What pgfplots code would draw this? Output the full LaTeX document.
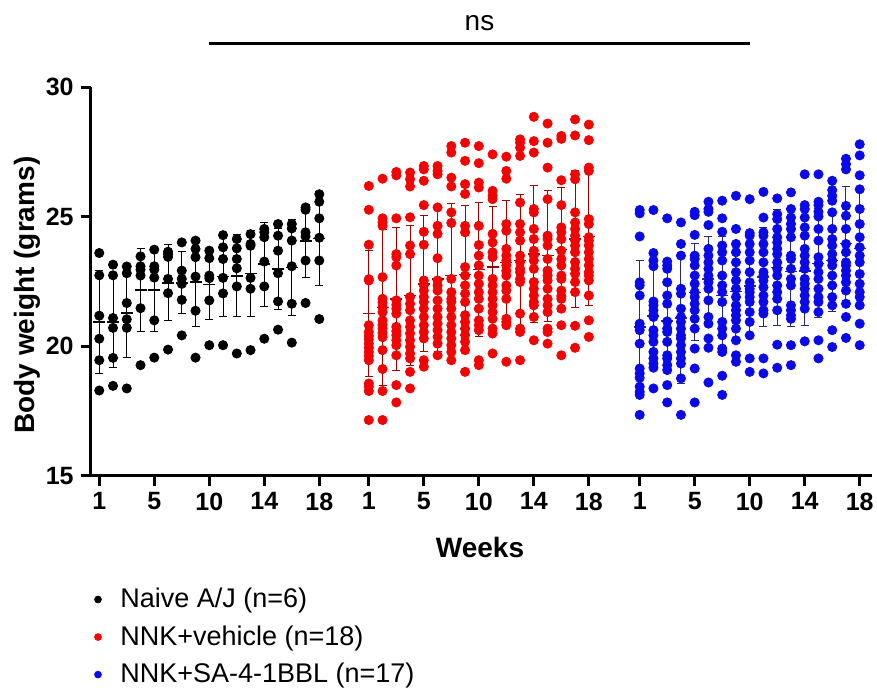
\documentclass[border=0pt]{standalone}
\usepackage{fontspec}
\setmainfont{Liberation Sans}
\usepackage{pgfplots}
\usepackage{pgfplotstable}
\pgfplotsset{compat=1.18}

\definecolor{dotred}{RGB}{240,4,4}
\definecolor{dotblue}{RGB}{10,10,232}
\definecolor{barred}{RGB}{160,0,0}
\definecolor{barblue}{RGB}{40,40,130}

% Naive A/J: x  mean  sd  y1..y6
\pgfplotstableread{
x m s y1 y2 y3 y4 y5 y6
1 20.93 1.98 23.60 22.74 21.18 20.29 19.46 18.29
2 20.94 1.77 23.15 22.74 21.09 20.71 19.55 18.47
3 21.28 1.73 23.08 22.82 21.67 21.04 20.71 18.37
4 22.17 1.60 23.47 23.09 22.96 22.73 21.47 19.27
5 22.17 1.60 23.73 23.09 22.96 22.65 21.00 19.56
6 22.45 1.47 23.65 23.55 23.45 22.60 22.05 19.87
7 22.45 1.20 24.01 22.92 22.60 22.41 21.79 20.42
8 22.48 1.70 24.08 23.76 23.44 22.69 21.37 19.56
9 22.38 1.33 23.69 23.40 22.73 22.63 21.77 20.04
10 22.70 1.56 24.29 23.82 23.37 22.64 22.04 20.04
11 22.72 1.59 24.14 23.78 23.37 23.01 22.31 19.72
12 22.81 1.66 24.33 23.95 23.88 22.64 22.22 19.85
13 23.17 1.62 24.53 24.40 24.21 23.27 22.31 20.29
14 22.98 1.56 24.72 24.27 23.69 22.82 21.73 20.64
15 23.04 1.85 24.72 24.55 24.08 23.09 21.64 20.14
16 24.06 1.42 25.36 25.27 24.40 24.24 23.31 21.67
17 24.16 1.80 25.87 25.58 24.94 24.19 23.31 21.05
}\blk

% NNK+vehicle: x  mean  sd  y1..y18
\pgfplotstableread{
x m s y1 y2 y3 y4 y5 y6 y7 y8 y9 y10 y11 y12 y13 y14 y15 y16 y17 y18
20.6 21.26 2.44 26.19 25.27 23.92 22.59 22.54 20.81 20.55 20.40 20.27 20.10 19.94 19.78 19.63 19.46 18.56 18.44 18.27 17.15
21.6 21.50 3.00 26.47 24.94 24.78 24.65 22.67 21.83 21.68 21.51 21.32 21.00 20.83 20.68 20.51 20.35 19.85 19.12 18.27 17.15
22.6 21.83 2.76 26.73 26.60 24.94 23.56 23.44 23.12 21.77 21.60 21.45 21.26 20.75 20.58 20.43 20.23 20.04 19.65 18.50 17.83
23.6 21.96 2.69 26.71 26.45 26.17 24.98 23.89 23.56 21.90 21.64 21.39 21.00 20.75 20.49 20.23 19.98 19.72 19.53 19.01 18.37
24.6 22.41 2.63 26.96 26.83 26.39 25.45 24.42 23.92 22.54 22.35 22.15 21.90 21.71 21.45 21.13 20.81 20.55 20.30 19.46 19.21
25.6 22.60 2.80 26.96 26.77 26.64 25.36 24.65 24.34 23.40 22.54 22.35 22.15 21.77 21.45 21.13 20.87 20.62 20.36 20.10 19.65
26.6 22.73 2.80 27.73 27.48 26.51 26.17 25.17 24.76 22.60 22.09 21.83 21.71 21.45 21.13 20.81 20.55 20.30 20.04 19.78 19.46
27.6 22.77 2.68 27.86 27.16 26.26 25.88 24.65 24.40 23.06 22.73 22.35 22.03 21.71 21.20 20.94 20.68 20.43 20.17 19.85 19.01
28.6 22.96 2.59 27.73 27.07 26.32 26.13 24.65 23.91 23.50 23.12 22.73 22.41 22.09 21.83 21.45 21.00 20.81 20.62 19.46 19.27
29.6 23.05 2.35 27.41 26.00 25.81 25.68 24.34 24.01 23.63 23.44 22.60 22.35 22.09 21.83 21.58 21.32 21.06 20.68 20.49 19.72
30.6 23.24 2.37 27.32 26.77 26.47 24.72 24.46 23.76 23.50 23.31 23.12 22.92 22.73 22.35 22.15 21.83 21.06 20.94 20.81 19.40
31.6 23.31 2.56 27.99 27.86 27.67 27.35 25.55 24.72 24.40 24.08 23.50 23.25 22.99 22.86 22.60 22.48 21.26 20.68 20.55 19.46
32.6 23.56 2.65 28.86 27.92 27.48 25.30 25.17 24.53 24.14 23.69 23.50 23.31 22.99 22.48 22.22 21.96 21.71 21.58 21.13 20.23
33.6 23.50 2.53 28.60 27.86 26.90 25.68 24.27 24.14 23.89 23.37 22.92 22.73 22.54 22.22 21.83 21.58 21.32 20.68 20.55 20.10
34.6 23.73 2.40 28.12 28.01 26.41 25.45 24.59 24.40 24.14 23.69 23.37 23.12 22.73 22.60 22.15 21.94 21.83 21.45 20.81 19.65
35.6 24.14 2.63 28.76 28.14 26.64 26.45 25.17 24.78 24.53 24.27 24.08 23.89 23.63 23.25 22.99 22.80 22.48 22.09 20.79 19.94
36.6 24.24 2.65 28.56 27.96 26.90 26.77 24.91 24.72 24.21 24.08 23.89 23.63 23.37 23.12 22.86 22.73 22.54 21.96 21.00 20.36
}\veh

% NNK+SA-4-1BBL: x  mean  sd  y1..y17
\pgfplotstableread{
x m s y1 y2 y3 y4 y5 y6 y7 y8 y9 y10 y11 y12 y13 y14 y15 y16 y17
40.3 20.75 2.56 25.26 25.13 24.24 22.47 22.35 21.96 20.87 20.74 20.62 20.10 19.14 18.95 18.78 18.44 18.24 18.12 17.35
41.3 21.16 2.00 25.26 23.60 23.31 23.09 21.73 21.58 21.39 21.19 21.13 20.62 20.42 20.17 19.78 19.53 19.33 19.17 18.37
42.3 20.98 2.00 24.94 23.27 23.12 22.99 22.47 21.96 21.64 20.96 20.68 20.55 20.17 19.65 19.53 19.27 19.08 18.50 17.83
43.3 21.10 2.53 24.78 23.95 23.50 22.22 22.03 21.45 21.13 20.94 20.68 20.42 20.30 20.04 19.78 19.53 19.33 18.76 17.35
44.3 22.08 1.87 25.19 25.06 24.30 23.50 23.37 23.12 22.73 22.41 22.09 21.90 21.64 21.39 21.06 20.68 19.91 19.14 17.83
45.3 22.60 1.64 25.58 25.30 25.19 24.68 23.76 23.50 23.24 22.99 22.73 22.47 22.22 21.77 21.13 20.87 20.30 19.94 18.60
46.3 21.96 2.28 25.62 24.94 24.42 23.89 23.63 23.31 22.73 22.35 22.09 21.71 20.94 20.68 20.42 19.91 19.78 18.86 18.12
47.3 22.11 1.90 25.81 24.53 23.95 23.63 23.24 22.86 22.54 22.22 21.90 21.58 21.39 21.19 21.00 20.68 20.23 19.65 19.40
48.3 22.33 1.90 25.68 24.37 24.27 23.95 23.63 23.31 22.86 22.47 22.22 22.09 21.90 21.71 21.32 20.94 20.42 19.53 19.01
49.3 22.68 1.90 25.96 24.97 24.40 24.27 23.95 23.63 23.24 22.86 22.73 22.54 22.28 21.96 21.71 21.39 21.26 19.53 18.95
50.3 23.04 2.23 25.71 25.10 24.91 24.53 24.21 24.01 23.76 23.56 23.24 22.99 22.73 22.35 22.09 21.83 21.39 20.06 19.17
51.3 22.88 2.10 25.94 25.30 24.97 24.72 24.53 24.21 23.50 23.37 22.99 22.60 22.35 21.58 21.39 21.19 21.06 20.04 19.27
52.3 22.90 2.10 26.64 25.45 25.30 24.97 24.59 24.27 23.76 23.50 23.24 22.99 22.60 22.41 22.22 21.96 21.71 21.45 20.19
53.3 23.20 2.10 26.64 25.58 25.45 25.19 25.01 24.53 24.08 23.44 23.18 22.86 22.60 22.22 21.90 21.71 21.32 20.23 19.53
54.3 23.31 1.95 26.39 26.03 25.81 25.62 25.17 24.53 24.14 23.89 23.56 23.31 23.12 22.73 22.35 21.90 21.58 20.62 19.97
55.3 23.97 2.19 27.24 27.03 26.83 25.42 25.04 24.53 23.95 23.63 23.24 23.12 22.92 22.73 22.47 22.15 21.64 21.13 20.32
56.3 23.78 2.30 27.80 27.37 26.60 26.06 25.30 24.72 24.21 23.82 23.50 23.24 22.79 22.41 22.09 21.90 21.58 20.87 20.04
}\sab

\begin{document}
\begin{tikzpicture}
\begin{axis}[
    scale only axis,
    width=390.5pt, height=194.2pt,
    xmin=0.375, xmax=57.17,
    ymin=15, ymax=30,
    ytick={15,20,25,30},
    xtick={1,5,9,13,17,20.6,24.6,28.6,32.6,36.6,40.3,44.3,48.3,52.3,56.3},
    xticklabels={1,5,10,14,18,1,5,10,14,18,1,5,10,14,18},
    axis x line*=bottom,
    axis y line*=left,
    axis line style={line width=1.5pt},
    tick style={line width=1.5pt, black},
    tick align=outside,
    major tick length=5pt,
    /pgf/number format/assume math mode=true,
    tick label style={font=\bfseries\fontsize{12.5}{14}\selectfont},
    xlabel={Weeks},
    ylabel={Body weight (grams)},
    label style={font=\bfseries\fontsize{14}{16}\selectfont},
    xlabel style={at={(rel axis cs:0.4985,-0.1836)}, anchor=center},
    ylabel style={at={(rel axis cs:-0.081,0.465)}, anchor=center},
    clip=false,
    legend style={
        at={(-0.0037,-0.268)}, anchor=north west,
        draw=none, fill=none,
        font=\fontsize{13.5}{16}\selectfont,
        row sep=3.5pt,
    },
    legend cell align=left,
    dotkey/.style={legend image code/.code={
        \fill (0pt,0pt) circle (1.7pt);
        \path[draw=none, fill=none] (-1.7pt,-1.7pt) rectangle (9.2pt,1.7pt);}},
    dots/.style={only marks, mark=*, mark size=2.3pt},
    errs/.style={only marks, mark=-, mark size=3pt,
        mark options={line width=0.8pt},
        error bars/y dir=both, error bars/y explicit,
        error bars/error bar style={line width=0.5pt},
        error bars/error mark options={rotate=90, mark size=2pt, line width=0.5pt}},
]
\coordinate (bbl) at (rel axis cs:-0.1161,-0.5517);
\coordinate (btr) at (rel axis cs:1.0068,1.2248);

% mean +- SD
\addplot[black, errs, forget plot] table[x=x, y=m, y error=s]{\blk};
\addplot[barred, errs, forget plot] table[x=x, y=m, y error=s]{\veh};
\addplot[barblue, errs, forget plot] table[x=x, y=m, y error=s]{\sab};

% individual animals
\pgfplotsinvokeforeach{1,...,6}{
  \addplot[black, dots, forget plot] table[x=x, y=y#1]{\blk};
}
\pgfplotsinvokeforeach{1,...,18}{
  \addplot[dotred, dots, forget plot] table[x=x, y=y#1]{\veh};
}
\pgfplotsinvokeforeach{1,...,17}{
  \addplot[dotblue, dots, forget plot] table[x=x, y=y#1]{\sab};
}

\addlegendimage{black, dotkey}
\addlegendentry{Naive A/J (n=6)}
\addlegendimage{dotred, dotkey}
\addlegendentry{NNK+vehicle (n=18)}
\addlegendimage{dotblue, dotkey}
\addlegendentry{NNK+SA-4-1BBL (n=17)}

% significance bracket
\draw[line width=1.5pt] (axis cs:9,31.68) -- (axis cs:48.3,31.68);
\node[font=\fontsize{14}{16}\selectfont] at (axis cs:28.65,32.48) {ns};
\end{axis}
\pgfresetboundingbox
\path[use as bounding box] (bbl) rectangle (btr);
\end{tikzpicture}
\end{document}
